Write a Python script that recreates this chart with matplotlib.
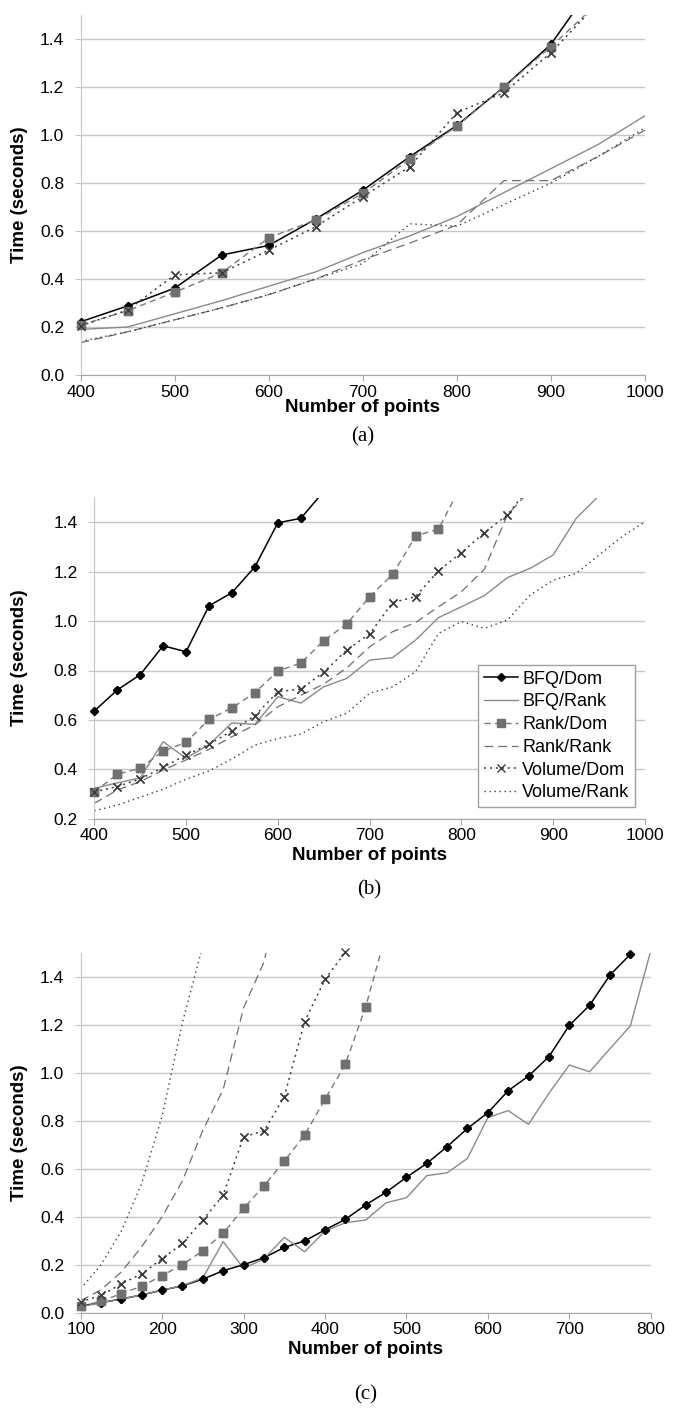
import matplotlib
matplotlib.use('Agg')
import matplotlib.pyplot as plt
from matplotlib.ticker import FormatStrFormatter

plt.rcParams['font.family'] = ['Liberation Sans', 'DejaVu Sans']

series_names = ['BFQ/Dom', 'BFQ/Rank', 'Rank/Dom', 'Rank/Rank', 'Volume/Dom', 'Volume/Rank']

# ---------------- Panel (a) ----------------
a_x_dom = [400, 450, 500, 550, 600, 650, 700, 750, 800, 850, 900, 950]
a_x_rank = [400, 450, 500, 550, 600, 650, 700, 750, 800, 850, 900, 950, 1000]
a_bfq_dom = [0.222, 0.288, 0.362, 0.500, 0.540, 0.650, 0.770, 0.910, 1.040, 1.200, 1.378, 1.655]
a_rank_dom = [0.208, 0.268, 0.345, 0.426, 0.572, 0.646, 0.757, 0.900, 1.037, 1.200, 1.368, 1.550]
a_vol_dom = [0.205, 0.271, 0.417, 0.426, 0.520, 0.618, 0.743, 0.868, 1.093, 1.176, 1.343, 1.550]
a_bfq_rank = [0.190, 0.200, 0.255, 0.310, 0.370, 0.430, 0.510, 0.580, 0.660, 0.760, 0.860, 0.960, 1.080]
a_rank_rank = [0.135, 0.180, 0.230, 0.280, 0.335, 0.400, 0.480, 0.550, 0.625, 0.810, 0.810, 0.910, 1.020]
a_vol_rank = [0.140, 0.180, 0.230, 0.280, 0.335, 0.400, 0.465, 0.630, 0.620, 0.710, 0.800, 0.910, 1.030]

# ---------------- Panel (b) ----------------
b_x_bfq_dom = list(range(400, 651, 25))
b_x_rank_dom = list(range(400, 801, 25))
b_x_vol_dom = list(range(400, 876, 25))
b_x_bfq_rank = list(range(400, 951, 25))
b_x_rank_rank = list(range(400, 876, 25))
b_x_vol_rank = list(range(400, 1001, 25))
b_bfq_dom = [0.636, 0.721, 0.783, 0.900, 0.876, 1.062, 1.115, 1.220, 1.398, 1.416, 1.525]
b_rank_dom = [0.309, 0.380, 0.404, 0.474, 0.509, 0.602, 0.649, 0.710, 0.798, 0.830, 0.921,
              0.988, 1.099, 1.189, 1.344, 1.373, 1.550]
b_vol_dom = [0.309, 0.330, 0.361, 0.408, 0.458, 0.501, 0.556, 0.617, 0.714, 0.725, 0.793,
             0.883, 0.948, 1.075, 1.099, 1.204, 1.277, 1.358, 1.430, 1.545]
b_bfq_rank = [0.323, 0.345, 0.365, 0.512, 0.445, 0.500, 0.588, 0.582, 0.694, 0.668, 0.734,
              0.768, 0.842, 0.852, 0.923, 1.014, 1.058, 1.103, 1.176, 1.214, 1.268, 1.416, 1.508]
b_rank_rank = [0.262, 0.316, 0.350, 0.397, 0.438, 0.481, 0.532, 0.580, 0.653, 0.700, 0.745,
               0.810, 0.896, 0.957, 0.994, 1.058, 1.119, 1.210, 1.430, 1.530]
b_vol_rank = [0.232, 0.255, 0.287, 0.319, 0.360, 0.393, 0.442, 0.498, 0.525, 0.542, 0.593,
              0.627, 0.708, 0.734, 0.795, 0.950, 0.998, 0.971, 1.004, 1.106, 1.166, 1.193,
              1.268, 1.342, 1.402]

# ---------------- Panel (c) ----------------
c_x_bfq_dom = list(range(100, 776, 25))
c_x_bfq_rank = list(range(100, 801, 25))
c_x_rank_dom = list(range(100, 476, 25))
c_x_vol_dom = list(range(100, 451, 25))
c_x_rank_rank = list(range(100, 351, 25))
c_x_vol_rank = list(range(100, 251, 25))
c_bfq_dom = [0.028, 0.042, 0.057, 0.074, 0.094, 0.112, 0.140, 0.175, 0.200, 0.229, 0.272,
             0.299, 0.345, 0.389, 0.449, 0.502, 0.564, 0.622, 0.692, 0.768, 0.833, 0.925,
             0.986, 1.067, 1.197, 1.281, 1.407, 1.493]
c_bfq_rank = [0.025, 0.042, 0.057, 0.074, 0.094, 0.113, 0.145, 0.296, 0.185, 0.224, 0.314,
              0.254, 0.340, 0.375, 0.386, 0.458, 0.479, 0.571, 0.583, 0.643, 0.813, 0.842,
              0.785, 0.914, 1.032, 1.004, 1.100, 1.195, 1.507]
c_rank_dom = [0.028, 0.047, 0.080, 0.110, 0.155, 0.200, 0.258, 0.331, 0.435, 0.528, 0.632,
              0.740, 0.889, 1.035, 1.275, 1.580]
c_vol_dom = [0.045, 0.072, 0.120, 0.162, 0.225, 0.289, 0.386, 0.490, 0.733, 0.757, 0.900,
             1.213, 1.389, 1.502, 1.750]
c_rank_rank = [0.050, 0.095, 0.170, 0.275, 0.400, 0.550, 0.760, 0.930, 1.270, 1.460, 1.850]
c_vol_rank = [0.100, 0.200, 0.340, 0.540, 0.820, 1.210, 1.530]

a_xticks = [400, 500, 600, 700, 800, 900, 1000]
c_xticks = [100, 200, 300, 400, 500, 600, 700, 800]
a_yticks = [0.0, 0.2, 0.4, 0.6, 0.8, 1.0, 1.2, 1.4]
b_yticks = [0.2, 0.4, 0.6, 0.8, 1.0, 1.2, 1.4]
xlabel_text = 'Number of points'
ylabel_text = 'Time (seconds)'
captions = ['(a)', '(b)', '(c)']

W, H = 681, 1421
fig = plt.figure(figsize=(W / 100, H / 100), dpi=100)


def px_axes(left, right, top, bottom):
    return fig.add_axes([left / W, 1 - bottom / H, (right - left) / W, (bottom - top) / H])


styles = {
    'BFQ/Dom': dict(color='black', ls='-', lw=1.1, marker='D', ms=4.2, mfc='black', mec='black'),
    'BFQ/Rank': dict(color='#8a8a8a', ls='-', lw=1.0),
    'Rank/Dom': dict(color='#7a7a7a', ls=(0, (4.5, 3)), lw=1.0, marker='s', ms=5.8,
                     mfc='#707070', mec='#707070'),
    'Rank/Rank': dict(color='#6e6e6e', ls=(0, (7, 4)), lw=0.9),
    'Volume/Dom': dict(color='#3c3c3c', ls=(0, (1.3, 2.6)), lw=1.1, marker='x', ms=6,
                       mew=1.0, mec='#3c3c3c'),
    'Volume/Rank': dict(color='#3c3c3c', ls=(0, (1.0, 2.6)), lw=1.0),
}


def draw(ax, x, y, name, ytop):
    st = styles[name]
    ax.plot(x, y, label=name, **st)
    if 'marker' in st:
        xs = [xi for xi, yi in zip(x, y) if yi <= ytop + 0.005]
        ys = [yi for yi in y if yi <= ytop + 0.005]
        ax.plot(xs, ys, ls='none', marker=st['marker'], ms=st['ms'], mfc=st.get('mfc', 'none'),
                mec=st['mec'], mew=st.get('mew', 1.0), clip_on=False, zorder=3)


def style_ax(ax, xlim, xticks, ylim, yticks):
    ax.set_xlim(*xlim)
    ax.set_ylim(*ylim)
    ax.set_xticks(xticks)
    ax.set_yticks(yticks)
    ax.yaxis.set_major_formatter(FormatStrFormatter('%.1f'))
    ax.grid(axis='y', color='#c6c6c6', lw=1.0)
    ax.set_axisbelow(True)
    for s in ['top', 'right']:
        ax.spines[s].set_visible(False)
    ax.spines['left'].set_color('#c6c6c6')
    ax.spines['bottom'].set_color('#a8a8a8')
    ax.tick_params(axis='x', direction='out', length=4, color='#a8a8a8', labelsize=12.5, pad=3)
    ax.tick_params(axis='y', direction='out', length=4, color='#c6c6c6', labelsize=12.5, pad=8)


def labels(left, right, top, bottom, xl_y, cap_y, cap):
    cx = (left + right) / 2 / W
    fig.text(cx, 1 - xl_y / H, xlabel_text, ha='center', va='center', fontsize=13.5,
             fontweight='bold')
    fig.text(20 / W, 1 - (top + bottom) / 2 / H, ylabel_text, ha='center', va='center',
             rotation=90, fontsize=13.5, fontweight='bold')
    fig.text(cx, 1 - cap_y / H, cap, ha='center', va='center', fontsize=15,
             family=['Liberation Serif', 'DejaVu Serif'])


# Panel (a)
pa = (80.7, 645, 15, 375)
ax = px_axes(*pa)
style_ax(ax, (400, 1000), a_xticks, (0, 1.5), a_yticks)
draw(ax, a_x_dom, a_bfq_dom, 'BFQ/Dom', 1.5)
draw(ax, a_x_rank, a_bfq_rank, 'BFQ/Rank', 1.5)
draw(ax, a_x_dom, a_rank_dom, 'Rank/Dom', 1.5)
draw(ax, a_x_rank, a_rank_rank, 'Rank/Rank', 1.5)
draw(ax, a_x_dom, a_vol_dom, 'Volume/Dom', 1.5)
draw(ax, a_x_rank, a_vol_rank, 'Volume/Rank', 1.5)
labels(*pa, 408, 437, captions[0])

# Panel (b)
pb = (94.3, 645, 497.6, 818.7)
ax = px_axes(*pb)
style_ax(ax, (400, 1000), a_xticks, (0.2, 1.5), b_yticks)
draw(ax, b_x_bfq_dom, b_bfq_dom, 'BFQ/Dom', 1.5)
draw(ax, b_x_bfq_rank, b_bfq_rank, 'BFQ/Rank', 1.5)
draw(ax, b_x_rank_dom, b_rank_dom, 'Rank/Dom', 1.5)
draw(ax, b_x_rank_rank, b_rank_rank, 'Rank/Rank', 1.5)
draw(ax, b_x_vol_dom, b_vol_dom, 'Volume/Dom', 1.5)
draw(ax, b_x_vol_rank, b_vol_rank, 'Volume/Rank', 1.5)
handles, labs = ax.get_legend_handles_labels()
leg = ax.legend(handles[:6], labs[:6], loc='lower right', bbox_to_anchor=(0.982, 0.037),
                fontsize=13, frameon=True, fancybox=False, edgecolor='#a0a0a0',
                framealpha=1, borderaxespad=0, handlelength=1.9, handletextpad=0.25,
                labelspacing=0.32, borderpad=0.3)
leg.get_frame().set_linewidth(1.0)
labels(*pb, 855, 890, captions[1])

# Panel (c)
pc = (80.7, 650.7, 952.7, 1312.7)
ax = px_axes(*pc)
style_ax(ax, (100, 800), c_xticks, (0, 1.5), a_yticks)
draw(ax, c_x_bfq_dom, c_bfq_dom, 'BFQ/Dom', 1.5)
draw(ax, c_x_bfq_rank, c_bfq_rank, 'BFQ/Rank', 1.5)
draw(ax, c_x_rank_dom, c_rank_dom, 'Rank/Dom', 1.5)
draw(ax, c_x_rank_rank, c_rank_rank, 'Rank/Rank', 1.5)
draw(ax, c_x_vol_dom, c_vol_dom, 'Volume/Dom', 1.5)
draw(ax, c_x_vol_rank, c_vol_rank, 'Volume/Rank', 1.5)
labels(*pc, 1349, 1395, captions[2])

fig.savefig('out.png', dpi=100)
